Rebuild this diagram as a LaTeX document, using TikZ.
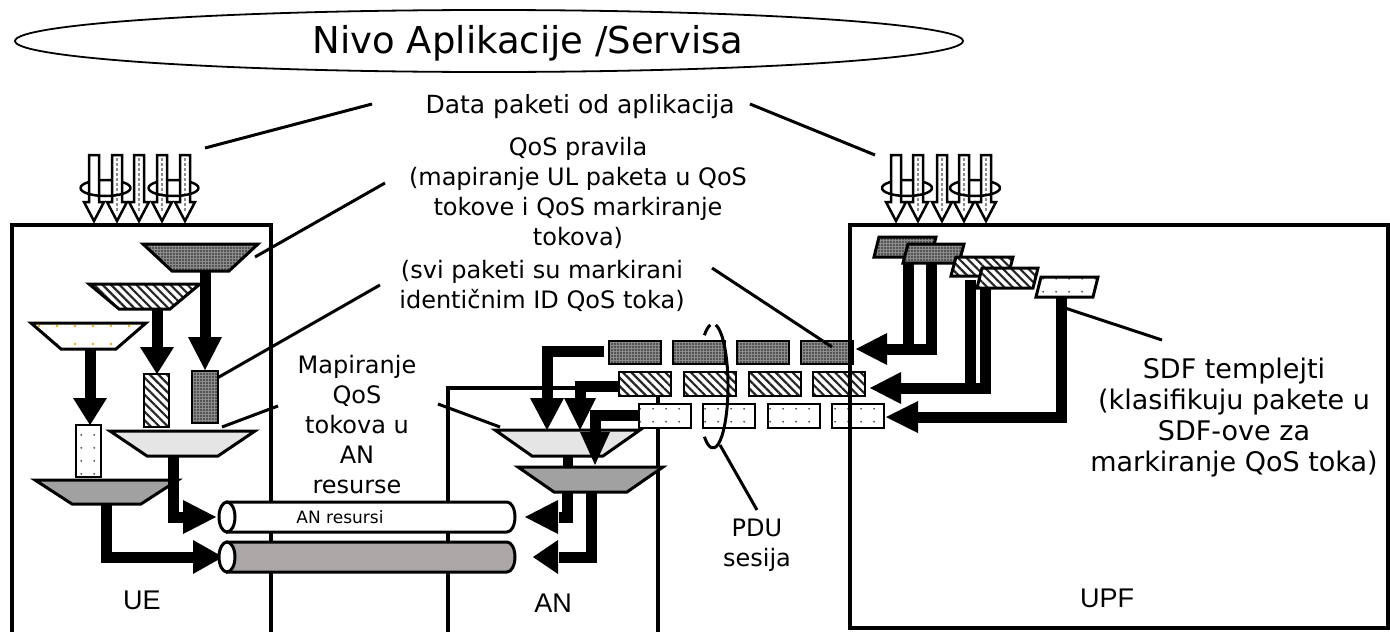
\documentclass[tikz,border=0pt]{standalone}
\usepackage{fontspec}
\setmainfont{DejaVu Sans}
\newfontfamily\arialf{Liberation Sans}
\usetikzlibrary{patterns,patterns.meta}
\definecolor{tubegray}{RGB}{171,167,167}
\newcommand{\itrap}[6]{\draw[shp,#1] (#2,#4) -- (#3,#4) -- ({#3-#5},#6) -- ({#2+#5},#6) -- cycle;}
\newcommand{\para}[6]{\draw[shp,#1] (#2,#4) -- ({#2+#5},#4) -- ({#2+#5+#6},#3) -- ({#2+#6},#3) -- cycle;}
\newcommand{\hd}[4]{\fill ({#1-#4},#2) -- ({#1+#4},#2) -- (#1,#3) -- cycle;}
\newcommand{\hl}[4]{\fill (#2,{#1-#4}) -- (#2,{#1+#4}) -- (#3,#1) -- cycle;}
\newcommand{\harr}[1]{\draw[line width=2.5pt,fill=white,line join=miter] ({#1-5},155) -- ({#1+5},155) -- ({#1+5},202) -- ({#1+10},202) -- (#1,221) -- ({#1-10},202) -- ({#1-5},202) -- cycle;}
\newcommand{\harrd}[1]{\harr{#1}\draw[black!45,line width=1.5pt,dash pattern=on 3pt off 2pt] (#1,158) -- (#1,212);}
\begin{document}
\begin{tikzpicture}[x=1pt,y=-1pt,
  shp/.style={draw=black,line width=3pt,line join=miter},
  thinshp/.style={draw=black,line width=2.5pt},
  boxline/.style={draw=black,line width=4pt},
  lead/.style={line width=3pt},
  shaft/.style={line width=11pt,line join=miter},
  txt/.style={font=\fontsize{24}{30}\selectfont,align=center,inner sep=0pt},
  lbl/.style={font=\arialf\fontsize{27}{30}\selectfont,inner sep=0pt},
  pdark/.style={preaction={fill=black!45},pattern={Dots[distance=3pt,radius=0.8pt]},pattern color=black!90},
  phatch/.style={preaction={fill=white},pattern={Lines[angle=-45,distance=6pt,line width=2.2pt]},pattern color=black!85},
  pdots/.style={preaction={fill=white},pattern={Dots[distance=13pt,radius=1.1pt,xshift=4pt,yshift=3pt]},pattern color=black!70},
  pydots/.style={preaction={fill=white},pattern={Dots[distance=18pt,radius=1.4pt,xshift=3pt]},pattern color=orange!70!yellow}]
\useasboundingbox (0,0) rectangle (1390,632);

% application level
\draw[line width=1.8pt] (489,41) ellipse[x radius=474,y radius=31];
\node[font=\fontsize{37}{40}\selectfont,inner sep=0pt] (title) at (528,43) {Nivo Aplikacije /Servisa};

% texts
\node[txt,font=\fontsize{25}{30}\selectfont] (data) at (580,107) {Data paketi od aplikacija};
\node[txt] (qos) at (578,193) {QoS pravila\\(mapiranje UL paketa u QoS\\tokove i QoS markiranje\\tokova)};
\node[txt] (svi) at (542,286) {(svi paketi su markirani\\identičnim ID QoS toka)};
\node[txt,font=\fontsize{27}{31}\selectfont] (sdf) at (1234,418) {SDF templejti\\(klasifikuju pakete u\\SDF-ove za\\markiranje QoS toka)};
\node[txt] (pdu) at (757,545) {PDU\\sesija};

% leader lines
\coordinate (d1) at (372,104); \coordinate (d1e) at (205,148);
\coordinate (d2) at (750,104); \coordinate (d2e) at (875,155);
\coordinate (q1) at (385,183); \coordinate (q1e) at (255,257);
\coordinate (s1) at (380,285); \coordinate (s1e) at (205,385);
\coordinate (s2) at (712,268); 
\coordinate (m1) at (278,406); \coordinate (m1e) at (222,427);
\coordinate (m2) at (438,404); \coordinate (m2e) at (500,427);
\coordinate (f1) at (1162,340); \coordinate (f1e) at (1065,308);
\coordinate (p1) at (757,510); \coordinate (p1e) at (720,445);
\draw[lead] (d1) -- (d1e);
\draw[lead] (d2) -- (d2e);
\draw[lead] (q1) -- (q1e);
\draw[lead] (s1) -- (s1e);
\draw[lead] (m1) -- (m1e);
\draw[lead] (m2) -- (m2e);
\draw[lead] (f1) -- (f1e);
\draw[lead] (p1) -- (p1e);

% boxes UE and AN
\draw[boxline] (12,640) -- (12,225) -- (271,225) -- (271,640);
\draw[boxline] (448,640) -- (448,388) -- (658,388) -- (658,640);
\node[lbl] (ue) at (142,600) {UE};
\node[lbl] (an) at (553,603) {AN};
\node[lbl] (upf) at (1107,598) {UPF};

% incoming packet arrows (with rotation loops)
\foreach \cx in {105.5,173.5,907,975}{\draw[line width=2.5pt] ({\cx-25},188) arc[start angle=180,end angle=360,x radius=25,y radius=8];}
\harr{94}\harrd{117}\harrd{139}\harrd{162}\harrd{185}
\harr{896}\harrd{918}\harrd{942}\harrd{964}\harrd{986}
\foreach \cx in {105.5,173.5,907,975}{\draw[line width=2.5pt] ({\cx+25},188) arc[start angle=0,end angle=180,x radius=25,y radius=8];}

% UE internals
\itrap{pdark}{143}{258}{244}{29}{271}
\itrap{phatch}{89}{200}{284}{30}{309}
\itrap{pydots}{31}{146}{323}{30}{349}
\itrap{fill=black!10}{110}{255}{431}{37}{456}
\itrap{fill=black!37}{35}{178}{480}{37}{504}
\draw[thinshp,pdark] (192,371) rectangle (218,423);
\draw[thinshp,phatch] (144,374) rectangle (169,427);
\draw[thinshp,pdots] (76,425) rectangle (101,477);
\draw[shaft] (205,271) -- (205,338); \hd{205}{337}{370}{17}
\draw[shaft] (157,309) -- (157,348); \hd{157}{347}{374}{17}
\draw[shaft] (90,349) -- (90,399); \hd{90}{398}{425}{17}
\draw[shaft] (173,456) |- (184,517); \hl{517}{183}{216}{17}
\draw[shaft] (106,504) |- (194,557); \hl{557}{193}{223}{17}

% tubes
\draw[shp,fill=white] (227,502) -- (507,502) arc[start angle=-90,end angle=90,x radius=8,y radius=15] -- (227,532) -- cycle;
\draw[shp,fill=white] (227,517) ellipse[x radius=8,y radius=15];
\draw[shp,fill=tubegray] (227,542) -- (507,542) arc[start angle=-90,end angle=90,x radius=8,y radius=15] -- (227,572) -- cycle;
\draw[shp,fill=white] (227,557) ellipse[x radius=8,y radius=15];
\node[font=\fontsize{17}{20}\selectfont,inner sep=0pt] (anres) at (340,517) {AN resursi};
\node[txt,fill=white,inner sep=3pt] (map) at (357,425) {Mapiranje\\QoS\\tokova u\\AN\\resurse};

% AN internals
\itrap{fill=black!10}{495}{640}{430}{37}{456}
\fill (563,455) rectangle (573,468);
\itrap{fill=black!37}{518}{663}{467}{36}{492}

% PDU session packets
\foreach \x in {609,673,737,801}{\draw[thinshp,pdark] (\x,341) rectangle ({\x+52},364);}
\foreach \x in {619,684,749,813}{\draw[thinshp,phatch] (\x,372) rectangle ({\x+52},396);}
\foreach \x in {639,703,768,832}{\draw[thinshp,pdots] (\x,404) rectangle ({\x+52},428);}

% AN arrows
\draw[shaft] (604,351) -| (547,399); \hd{547}{398}{430}{17}
\draw[shaft] (620,386) -| (580,399); \hd{580}{398}{430}{16}
\draw[shaft] (640,415) -| (595,433); \hd{595}{432}{465}{15}
\draw[shaft] (567,492) |- (559,517); \hl{517}{558}{525}{17}
\draw[shaft] (591,492) |- (559,557); \hl{557}{558}{533}{17}

% UPF
\draw[shaft] (908,255) -- (908,349) -- (886,349);
\draw[shaft] (931,255) -- (931,349) -- (886,349);
\hl{349}{887}{856}{16}
\draw[shaft] (970,280) -- (970,388) -- (900,388);
\draw[shaft] (985,280) -- (985,388) -- (900,388);
\hl{388}{901}{870}{16}
\draw[shaft] (1061,290) -- (1061,417) -- (917,417);
\hl{417}{918}{886}{16}
\para{pdark}{874}{237}{257}{57}{5}
\para{pdark}{903}{244}{263}{56}{5}
\para{phatch}{951}{257}{276}{57}{5}
\para{phatch}{977}{268}{288}{56}{5}
\para{pdots}{1036}{277}{297}{57}{5}
\draw[boxline] (850,225) rectangle (1388,628);

% leader to packet, PDU ring
\draw[lead] (s2) -- (832,347);
\draw[lead] (713,386) ++(-80:15 and 62) arc[start angle=-80,end angle=125,x radius=15,y radius=62];
\draw[lead] (713,386) ++(-125:15 and 62) arc[start angle=-125,end angle=-100,x radius=15,y radius=62];
\end{tikzpicture}
\end{document}
